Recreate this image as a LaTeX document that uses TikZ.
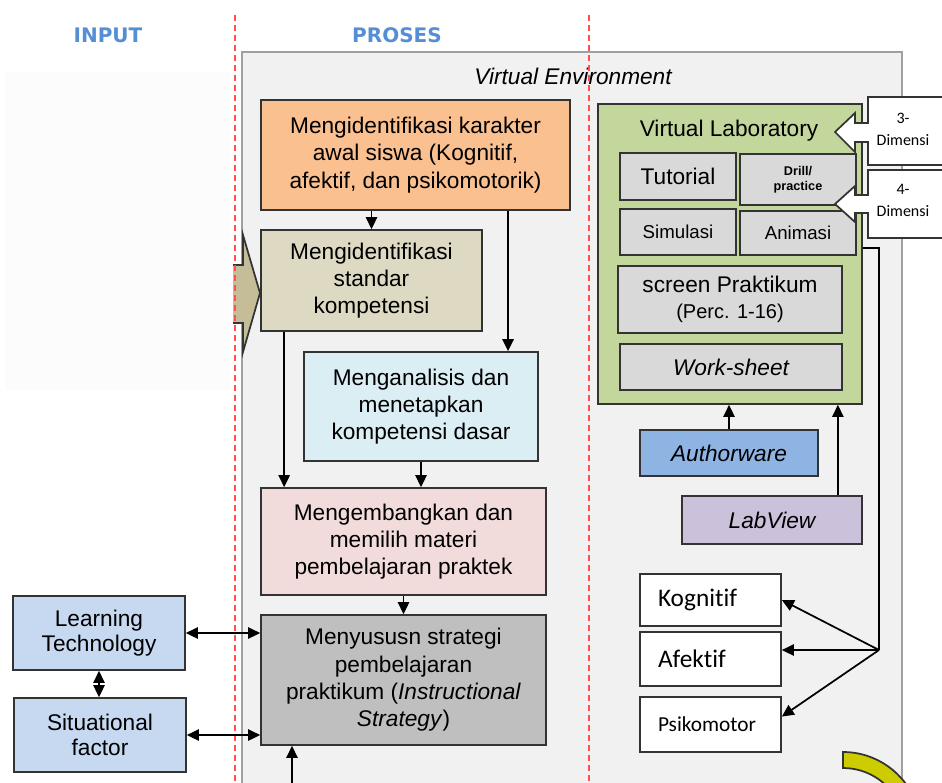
\documentclass[tikz,border=0pt]{standalone}
\usepackage{fontspec}
\setmainfont{Liberation Sans}
\newfontfamily\calfont[Ligatures=NoCommon]{Carlito}
\newfontfamily\headfont{DejaVu Sans}
\usetikzlibrary{arrows.meta,calc}

\definecolor{boxline}{RGB}{51,51,51}
\definecolor{envfill}{RGB}{241,241,241}
\definecolor{envline}{RGB}{160,160,160}
\definecolor{dashred}{RGB}{255,80,80}
\definecolor{headblue}{RGB}{85,142,213}
\definecolor{karfill}{RGB}{250,192,144}
\definecolor{stdfill}{RGB}{221,217,195}
\definecolor{kdfill}{RGB}{219,238,244}
\definecolor{matfill}{RGB}{242,220,219}
\definecolor{stratfill}{RGB}{191,191,191}
\definecolor{inputfill}{RGB}{198,217,241}
\definecolor{labfill}{RGB}{195,214,155}
\definecolor{toolfill}{RGB}{217,217,217}
\definecolor{awfill}{RGB}{142,180,227}
\definecolor{lvfill}{RGB}{204,193,218}
\definecolor{arrowfill}{RGB}{196,189,151}
\definecolor{arcfill}{RGB}{204,204,0}

\tikzset{every picture/.style={line width=0.75pt}}
\tikzset{
  box/.style={draw=boxline, line width=1.3pt, align=center, inner sep=2pt, font=\fontsize{17}{20.5}\selectfont},
  outbox/.style={box, fill=white, text width=78.75pt, align=left, font=\calfont\fontsize{19}{22}\selectfont},
  arr/.style={-{Triangle[length=9pt,width=8.5pt]}, line width=1.3pt},
  darr/.style={{Triangle[length=9pt,width=8.5pt]}-{Triangle[length=9pt,width=8.5pt]}, line width=1.3pt},
  callout/.style={draw=boxline, line width=1.3pt, fill=white},
  heading/.style={font=\headfont\bfseries\fontsize{15}{18}\selectfont, text=headblue},
  divider/.style={draw=dashred, line width=1.5pt, dash pattern=on 4.5pt off 3pt}
}

\begin{document}
\begin{tikzpicture}[x=0.75pt,y=0.75pt,yscale=-1,xscale=1]
\useasboundingbox (0,0) rectangle (942,782);
\clip (0,0) rectangle (942,782);

% Input area
\fill[black!1] (5,72) rectangle (230,390);
% Virtual environment
\draw[envline, fill=envfill, line width=1.5pt] (242,52) rectangle (902,800);
\node[font=\itshape\fontsize{17}{20}\selectfont] (ve) at (573,76) {Virtual Environment};

% Headings
\node[heading] (input) at (108,35) {INPUT};
\node[heading] (proses) at (397,35) {PROSES};

% Block arrow
\fill[arrowfill] (233,265) -- (243,265) -- (243,235) -- (260,293) -- (243,352) -- (243,323) -- (233,323) -- cycle;
\draw[boxline, line width=1.3pt] (233,265) -- (243,265) -- (243,235) -- (260,293) -- (243,352) -- (243,323) -- (233,323);

% Dividers
\draw[divider] (235,15) -- (235,782);
\draw[divider] (589,15) -- (589,782);

% Text Node
\node[box, fill=karfill, minimum width=231.75pt, minimum height=82.5pt] (kar) at (415.5,155) {Mengidentifikasi karakter\\awal siswa (Kognitif,\\afektif, dan psikomotorik)};
% Text Node
\node[box, fill=stdfill, minimum width=165.75pt, minimum height=75.75pt] (std) at (371.5,280.5) {Mengidentifikasi\\standar\\kompetensi};
% Text Node
\node[box, fill=kdfill, minimum width=175.5pt, minimum height=81.75pt] (kd) at (421,406.5) {Menganalisis dan\\menetapkan\\kompetensi dasar};
% Text Node
\node[box, fill=matfill, minimum width=213.75pt, minimum height=80.25pt] (mat) at (403.5,541.5) {Mengembangkan dan\\memilih materi\\pembelajaran praktek};
% Text Node
\node[box, fill=stratfill, minimum width=213.75pt, minimum height=97.5pt] (strat) at (403.5,680) {Menyususn strategi\\pembelajaran\\praktikum (\textit{Instructional}\\\textit{Strategy})};

% Text Node
\node[box, fill=inputfill, minimum width=129pt, minimum height=55.5pt, font=\fontsize{17}{18.5}\selectfont] (lt) at (99,633) {Learning\\Technology};
% Text Node
\node[box, fill=inputfill, minimum width=129pt, minimum height=55.5pt, font=\fontsize{17}{18.5}\selectfont] (sf) at (100,735) {Situational\\factor};

% Text Node
\node[box, fill=labfill, minimum width=198pt, minimum height=225pt] (vlab) at (730,254) {};
\node[font=\fontsize{17}{20}\selectfont] (vltitle) at (729,131) {Virtual Laboratory};
\node[box, fill=toolfill, minimum width=87pt, minimum height=35.25pt] (tut) at (678,176.5) {Tutorial};
\node[box, fill=toolfill, minimum width=87pt, minimum height=38.25pt, font=\bfseries\fontsize{9.5}{11.5}\selectfont] (drill) at (798,179.5) {Drill/\\practice};
\node[box, fill=toolfill, minimum width=87pt, minimum height=34.5pt, font=\fontsize{14}{17}\selectfont] (sim) at (678,232) {Simulasi};
\node[box, fill=toolfill, minimum width=87pt, minimum height=33pt, font=\fontsize{14}{17}\selectfont] (ani) at (798,233) {Animasi};
\node[box, fill=toolfill, minimum width=168pt, minimum height=50.25pt, font=\fontsize{17}{19}\selectfont] (scr) at (730,299.5) {screen Praktikum\\{\fontsize{15}{17}\selectfont(Perc. 1-16)}};
\node[box, fill=toolfill, minimum width=166.5pt, minimum height=34.5pt, font=\itshape\fontsize{17}{20}\selectfont] (ws) at (731,367) {Work-sheet};

% Text Node
\node[box, fill=awfill, minimum width=133.5pt, minimum height=34.5pt, font=\itshape\fontsize{17}{20}\selectfont] (aw) at (729,453) {Authorware};
% Text Node
\node[box, fill=lvfill, minimum width=135pt, minimum height=36pt, font=\itshape\fontsize{17}{20}\selectfont] (lv) at (772,520) {LabView};

% Text Node
\node[outbox, minimum width=105.75pt, minimum height=39pt] (kog) at (710.5,600) {Kognitif};
\node[outbox, minimum width=105.75pt, minimum height=40.5pt] (afe) at (710.5,659) {Afektif};
\node[outbox, minimum width=105.75pt, minimum height=41.25pt, font=\calfont\fontsize{16}{19}\selectfont] (psi) at (710.5,724.5) {Psikomotor};

% Callouts
\draw[callout] (945,97) -- (868,97) -- (868,123) -- (855,123) -- (855,113) -- (835,132) -- (855,152) -- (855,142) -- (868,142) -- (868,165) -- (945,165);
\node[font=\calfont\fontsize{12}{16.5}\selectfont, align=center] (dim3) at (903,129) {3-\\Dimensi};
\draw[callout] (945,170) -- (868,170) -- (868,195) -- (855,195) -- (855,186) -- (835,204) -- (855,222) -- (855,213) -- (868,213) -- (868,238) -- (945,238);
\node[font=\calfont\fontsize{12}{16.5}\selectfont, align=center] (dim4) at (903,200) {4-\\Dimensi};

% Connection
\draw[arr] (kar.south -| std.north) -- (std.north);
\draw[arr] ([xshift=69.4pt]kar.south) -- ([xshift=69.4pt]kar.south |- kd.north);
\draw[arr] ([xshift=18pt]std.south west) -- ([xshift=18pt]std.south west |- mat.north);
\draw[arr] (kd.south) -- (kd.south |- mat.north);
\draw[arr] (mat.south) -- (strat.north);
\coordinate (bot) at (292,790);
\draw[arr] (bot) -- (bot |- strat.south);
% Connection
\draw[darr] (lt.east) -- (lt.east -| strat.west);
\draw[darr] (sf.east) -- (sf.east -| strat.west);
\draw[darr] (lt.south) -- (lt.south |- sf.north);
% Connection
\draw[arr] (aw.north) -- (aw.north |- vlab.south);
\draw[arr] ([xshift=-18.75pt]lv.north east) -- ([xshift=-18.75pt]lv.north east |- vlab.south);
% Connection
\coordinate (jn) at (879,650);
\draw[line width=1.3pt] ($(vlab.north east)!0.48!(vlab.south east)$) -| (jn);
\draw[arr] (jn) -- (kog.east);
\draw[arr] (jn) -- (afe.east |- jn);
\draw[arr] (jn) -- ($(psi.north east)!0.36!(psi.south east)$);

% Arc
\draw[boxline, fill=arcfill, line width=1.3pt] (843,752) arc[start angle=-90, end angle=-20, radius=78] -- ($(843,830)+(-20:62)$) arc[start angle=-20, end angle=-90, radius=62] -- cycle;

\end{tikzpicture}
\end{document}
